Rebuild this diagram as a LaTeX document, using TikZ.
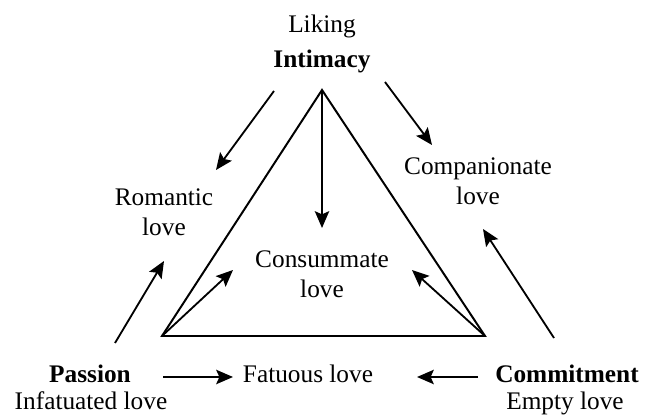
\documentclass[tikz,border=0pt]{standalone}
\usepackage{fontspec}
\setmainfont{Liberation Serif}
\usetikzlibrary{arrows.meta}

\begin{document}
\begin{tikzpicture}[x=0.025cm, y=-0.025cm,
    lbl/.style={font=\fontsize{18}{21}\selectfont, inner sep=0pt, anchor=base},
    arr/.style={line width=1.3pt, -{Stealth[length=4.2mm, width=3.6mm, inset=0.8mm]}}]
    \useasboundingbox (0, 0) rectangle (645, 419);

    % triangle
    \coordinate (top) at (322, 90);
    \coordinate (left) at (162, 336);
    \coordinate (right) at (485, 336);
    \draw[line width=1.4pt, line join=miter] (top) -- (left) -- (right) -- cycle;

    % labels
    \node[lbl] (liking) at (322, 33) {Liking};
    \node[lbl] (intimacy) at (322, 68) {\bfseries Intimacy};
    \node[lbl] (romantic) at (164, 206) {Romantic};
    \node[lbl] (romanticlove) at (164, 236) {love};
    \node[lbl] (companionate) at (478, 175) {Companionate};
    \node[lbl] (companionatelove) at (478, 205) {love};
    \node[lbl] (consummate) at (322, 268) {Consummate};
    \node[lbl] (consummatelove) at (322, 298) {love};
    \node[lbl] (passion) at (90, 383) {\bfseries Passion};
    \node[lbl] (infatuated) at (91, 409) {Infatuated love};
    \node[lbl] (fatuous) at (308, 383) {Fatuous love};
    \node[lbl] (commitment) at (567, 383) {\bfseries Commitment};
    \node[lbl] (empty) at (565, 409) {Empty love};

    % arrow ends
    \coordinate (intL) at (274, 91);
    \coordinate (intR) at (385, 82);
    \coordinate (romEnd) at (216, 170);
    \coordinate (comEnd) at (432, 145);
    \coordinate (conTop) at (322, 228);
    \coordinate (conL) at (233, 270);
    \coordinate (conR) at (412, 270);
    \coordinate (pasUp) at (115, 343);
    \coordinate (romLow) at (164, 261);
    \coordinate (comUp) at (554, 338);
    \coordinate (comLow) at (483, 229);
    \coordinate (pasR) at (163, 377);
    \coordinate (fatL) at (233, 377);
    \coordinate (comL) at (478, 377);
    \coordinate (fatR) at (417, 377);

    \draw[arr] (intL) -- (romEnd);
    \draw[arr] (intR) -- (comEnd);
    \draw[arr] (top) -- (conTop);
    \draw[arr] (left) -- (conL);
    \draw[arr] (right) -- (conR);
    \draw[arr] (pasUp) -- (romLow);
    \draw[arr] (comUp) -- (comLow);
    \draw[arr] (pasR) -- (fatL);
    \draw[arr] (comL) -- (fatR);
\end{tikzpicture}
\end{document}
